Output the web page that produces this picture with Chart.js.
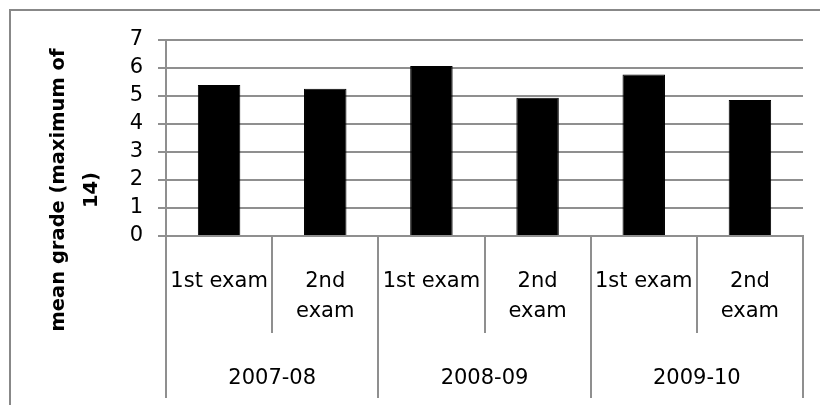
<!DOCTYPE html>
<html>
<head>
<meta charset="utf-8">
<script src="https://cdn.jsdelivr.net/npm/chart.js@4.4.1/dist/chart.umd.min.js"></script>
<style>
    html, body { margin: 0; padding: 0; background: #fff; overflow: hidden; }
    #moldura {
        position: absolute; left: 9px; top: 9px;
        width: 900px; height: 600px;
        border: 2px solid #888888;
    }
    #caixa { position: absolute; left: 0; top: 0; width: 820px; height: 405px; }
</style>
</head>
<body>
<div id="moldura"></div>
<div id="caixa"><canvas id="grafico" width="820" height="405"></canvas></div>
<script>
// dados
const exames = [['1st exam'], ['2nd', 'exam'], ['1st exam'], ['2nd', 'exam'], ['1st exam'], ['2nd', 'exam']];
const anos = ['2007-08', '2008-09', '2009-10'];
const notas = [5.39, 5.26, 6.07, 4.94, 5.77, 4.86];
const tituloY = ['mean grade (maximum of', '14)'];

const corGrade = '#8f8f8f';
const fonte = { family: '"DejaVu Sans"', size: 21, lineHeight: 1.45 };
const fonteY = { family: '"DejaVu Sans"', size: 21, lineHeight: 1 };

const ctx = document.getElementById('grafico').getContext('2d');

new Chart(ctx, {
    type: 'bar',
    data: {
        labels: exames,
        datasets: [{
            data: notas,
            backgroundColor: '#000',
            borderColor: '#000',
            borderWidth: 1,
            barPercentage: 0.4,
            categoryPercentage: 1
        }]
    },
    options: {
        responsive: false,
        animation: false,
        layout: { padding: { left: 110, top: 40, right: 17, bottom: 0 } },
        plugins: {
            legend: { display: false },
            tooltip: { enabled: false }
        },
        scales: {
            y: {
                min: 0,
                max: 7,
                afterFit(s) { s.width = 56; },
                ticks: { stepSize: 1, autoSkip: false, padding: 15, color: '#000', font: fonteY },
                grid: { color: corGrade, lineWidth: 2, tickLength: 8 },
                border: { color: corGrade, width: 2 }
            },
            x: {
                position: 'bottom',
                weight: 0,
                afterFit(s) { s.height = 97; },
                ticks: { padding: -67, color: '#000', font: fonte, maxRotation: 0, minRotation: 0, autoSkip: false },
                grid: { offset: true, drawOnChartArea: false, color: corGrade, lineWidth: 2, tickLength: 97 },
                border: { color: corGrade, width: 2 }
            },
            anos: {
                type: 'category',
                labels: anos,
                position: 'bottom',
                weight: 1,
                afterFit(s) { s.height = 72; },
                ticks: { padding: -35, color: '#000', font: fonte, maxRotation: 0, minRotation: 0, autoSkip: false },
                grid: { offset: true, drawOnChartArea: false, color: corGrade, lineWidth: 2, tickLength: 65 },
                border: { display: false }
            }
        }
    },
    plugins: [{
        // titulo do eixo Y em duas linhas
        id: 'tituloY',
        afterDraw(chart) {
            const { ctx, chartArea } = chart;
            ctx.save();
            ctx.translate(75, chartArea.top + 150);
            ctx.rotate(-Math.PI / 2);
            ctx.font = 'bold 19.5px "DejaVu Sans"';
            ctx.fillStyle = '#000';
            ctx.textAlign = 'center';
            ctx.textBaseline = 'middle';
            tituloY.forEach((t, i) => ctx.fillText(t, 0, (i - 0.5) * 33));
            ctx.restore();
        }
    }]
});
</script>
</body>
</html>
